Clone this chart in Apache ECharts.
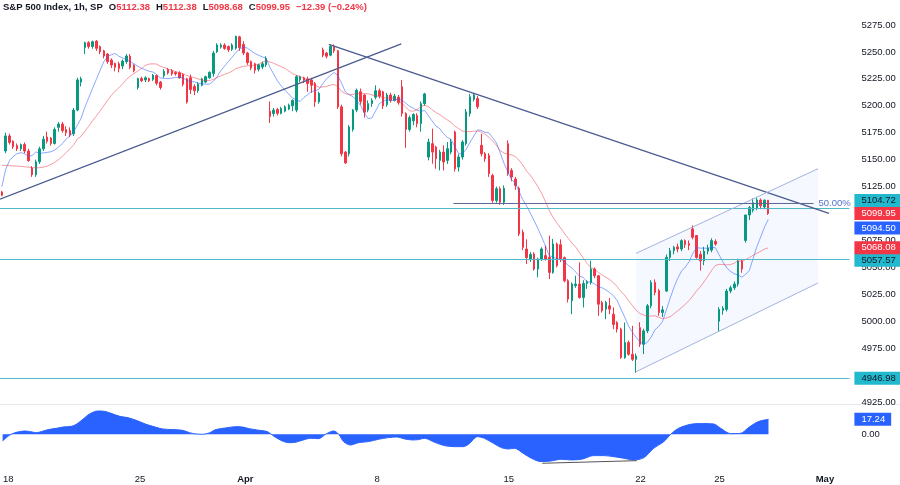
<!DOCTYPE html>
<html><head><meta charset="utf-8">
<script src="https://cdn.jsdelivr.net/npm/echarts/dist/echarts.min.js"></script>
<style>html,body{margin:0;padding:0;background:#fff}#c{width:900px;height:485px}</style>
</head><body><div id="c"></div><script>
// ---------- data ----------
const symbolTitle = 'S&P 500 Index, 1h, SP';
const tradingDays = ['2024-03-15','2024-03-18','2024-03-19','2024-03-20','2024-03-21','2024-03-22',
  '2024-03-25','2024-03-26','2024-03-27','2024-03-28','2024-04-01','2024-04-02','2024-04-03','2024-04-04',
  '2024-04-05','2024-04-08','2024-04-09','2024-04-10','2024-04-11','2024-04-12','2024-04-15','2024-04-16',
  '2024-04-17','2024-04-18','2024-04-19','2024-04-22','2024-04-23','2024-04-24','2024-04-25','2024-04-26',
  '2024-04-29','2024-04-30','2024-05-01'];
const sessionHours = ['09:30','10:30','11:30','12:30','13:30','14:30','15:30'];
const tickDays  = ['2024-03-18','2024-03-25','2024-04-01','2024-04-08','2024-04-15','2024-04-22','2024-04-25','2024-05-01'];
const tickTexts = ['18','25','Apr','8','15','22','25','May'];
const boldTicks = ['Apr','May'];

// candles as [open, high, low, close]
const barMar15 = [[5120,5121,5116,5117]];
const weekMar18 = [
 [5158,5175,5156,5172],[5172,5174,5164,5166],[5167,5168,5160,5162],[5163,5165,5158,5160],[5160,5165,5158,5164],[5164,5166,5156,5158],[5158,5160,5148,5149],
 [5142,5144,5134,5136],[5136,5150,5134,5148],[5148,5162,5146,5160],[5160,5172,5158,5169],[5171,5176,5165,5167],[5170,5171,5163,5165],[5165,5180,5164,5178],
 [5180,5185,5176,5183],[5183,5185,5175,5177],[5178,5181,5172,5175],[5177,5180,5171,5173],[5174,5198,5172,5196],[5196,5226,5195,5224],[5222,5227,5218,5225],
 [5254,5259.5,5248,5258.6],[5258.6,5260,5253,5255],[5255,5260.5,5253,5259.5],[5260,5261,5251,5253.3],[5254.9,5256,5248,5250.2],[5251,5252,5244,5246.2],[5248,5249,5239,5241],
 [5242.5,5244,5235,5237.8],[5239.4,5240,5232,5235.7],[5239,5241,5231,5234.7],[5236.9,5243,5234,5241.5],[5240.9,5248,5239,5246.2],[5246,5248,5234,5235.7],[5237.8,5238.5,5231,5232.5]];
const weekMar25 = [
 [5217,5226,5215,5225.4],[5225.4,5227,5222,5223.2],[5224,5227.5,5222,5226],[5225.4,5226,5222,5223.2],[5224.5,5229.5,5223,5228.5],[5228,5229,5219,5221],[5222,5223,5215,5217],
 [5228,5234,5226,5232],[5233.5,5235,5229,5230.5],[5232.5,5234,5228,5229.5],[5231,5232,5228,5229.6],[5230.7,5232,5225,5226],[5229,5230,5218,5220],[5225,5226,5202,5203.5],
 [5226,5229,5211,5215],[5218,5220,5210,5214],[5214,5222,5212,5220],[5219,5226,5218,5225],[5222,5228,5221,5227],[5226,5232,5225,5231],[5230,5251,5227,5249],
 [5250.2,5258,5249,5256.4],[5254.5,5258,5253,5256.5],[5256.4,5258,5252,5253.3],[5255,5256,5250,5252],[5252.4,5258,5251,5256.4],[5253.5,5265,5252,5264.5],[5264,5265,5251,5254]];
const weekApr01 = [
 [5257,5260,5247,5249],[5249,5250,5238,5240],[5241,5242,5233,5235],[5239,5240,5230,5233],[5234,5239,5232,5238],[5236,5241,5234,5239],[5238,5246,5236,5244],
 [5195,5204,5184,5190],[5192.8,5198,5190,5196],[5196.5,5198,5191,5193],[5193,5199,5192,5197.4],[5195,5200.5,5194,5199],[5197,5202,5196,5200.5],[5200,5206,5195,5205],
 [5196,5228.5,5194,5227],[5224,5228,5222,5227],[5226,5227,5221,5223.8],[5225,5227,5213,5220.7],[5224,5226,5212,5219],[5220.7,5222,5199,5203.6],[5203.6,5213,5202,5211.4],
 [5252,5254,5245,5247],[5249,5250,5244,5246],[5247,5256.5,5246,5255],[5255,5257,5249,5251],[5251,5252,5197,5199],[5199,5201,5153,5155.5],[5157,5158,5146,5147],
 [5155.5,5182,5153,5180.3],[5178,5197,5176,5196],[5196,5216,5194,5214.5],[5213,5216,5201,5204],[5210,5211,5189,5194],[5196,5205,5194,5202],[5202,5207,5199,5205]];
const weekApr08 = [
 [5208,5219,5206,5214],[5214,5216,5207,5209],[5213,5214,5197,5200],[5201,5212,5199,5210],[5210,5212,5203,5205],[5205,5211,5204,5209],[5208,5210,5201,5203],
 [5217.6,5223.8,5190,5192.8],[5192.8,5194,5161,5178],[5178,5191,5176,5189],[5186,5193,5182,5192],[5191,5193,5180,5183.5],[5183.5,5204,5176,5202],[5202,5212,5200,5211],
 [5152.4,5169.5,5149.3,5166.3],[5164.8,5178.8,5146.2,5157],[5161.7,5163,5141.5,5150.9],[5149.3,5159,5140,5157],[5157,5163.3,5140,5147.8],[5149.3,5166.4,5146,5160.2],[5157,5169,5155,5166.4],
 [5175.7,5177,5139,5141.5],[5143.1,5155,5139,5152.4],[5152.4,5168,5150,5166.4],[5164.8,5197,5163,5194.3],[5192.8,5211,5190,5208.3],[5206,5211.8,5204,5210],[5206.7,5209,5197,5199],
 [5163.3,5174,5153,5155.5],[5155.5,5157,5148,5150.9],[5154,5156,5134,5136.9],[5135.3,5137,5110,5112.1],[5112.1,5125,5110,5123],[5123,5125,5108,5110.5],[5110.5,5126,5108,5123.4]];
const weekApr15 = [
 [5164.8,5167.9,5135,5136.9],[5140,5142,5130,5133.8],[5132,5134,5122,5126],[5123.4,5125,5079,5081],[5082.6,5085,5066,5068.6],[5067,5076,5053,5059],[5057.8,5064,5055,5062],
 [5062.4,5064,5047,5048.4],[5048.4,5059,5040.7,5057.8],[5057.8,5068.6,5056,5067.1],[5060.9,5070.2,5056.2,5057.8],[5059.3,5079.5,5039.1,5045.3],[5045.3,5076.4,5044,5071.7],[5071.7,5073,5050,5051.6],
 [5071,5076,5055,5058],[5059,5060,5036,5037.6],[5037.6,5039,5017.4,5020.5],[5019,5036,5006.5,5034.5],[5032.9,5042.2,5031,5034.5],[5034.5,5054.7,5021,5022],[5022,5038,5012.8,5035],
 [5035,5038,5030,5036.5],[5036,5056.2,5034,5048.4],[5048.4,5050,5040,5042.2],[5042.2,5043,5005,5015.8],[5017.4,5019,5008,5009.7],[5011.2,5019,5001.9,5017.4],[5014.3,5021.6,5006.5,5011.2],
 [5006.5,5012.8,4992.6,4997],[4998.8,5000,4989.5,4992.6],[4992.6,4994,4965,4966.2],[4966.2,4998.8,4965,4980.2],[4980.2,4982,4968,4969.3],[4969.3,4995.7,4963,4964.6],[4964.6,4970,4952.2,4967.7]];
const weekApr22 = [
 [4994,4999,4976,4978.6],[4978.6,4993,4969.4,4991],[4991,5016,4989,5014.3],[5014.3,5038,5012,5036],[5036,5038.8,5024,5026.7],[5028.3,5030,5005,5008.1],[5008.1,5014,5004,5010.6],
 [5028,5062,5027,5059.3],[5059.3,5068,5056,5065.5],[5065.5,5070,5062,5068.6],[5069,5072,5064,5067],[5067,5076,5065,5074.8],[5074.8,5076,5068,5071],[5072,5075,5066,5070.5],
 [5085.7,5089,5076,5077.9],[5079.5,5080,5058,5059.2],[5062,5065,5047,5056],[5056,5069,5052,5065],[5065,5071,5062,5068],[5066,5077,5064,5074.8],[5074,5076,5070,5071.6],
 [5000,5013,4990,5011],[5010,5014,5006,5012],[5011,5030,5009,5028],[5028,5033,5026,5031],[5031,5037,5029,5034.5],[5034.5,5058,5032,5056],[5056,5057,5045,5048.4],
 [5075,5098,5073,5098.6],[5098.6,5107,5094,5105.5],[5103,5114,5101,5110],[5105,5114.6,5103,5112.5],[5112.5,5114,5104,5107.21],[5106,5113,5104,5112.34],[5112.38,5112.38,5098.68,5099.95]];

// moving-average values at the left edge (before a full window exists)
const fastMaStart = [5125,5141,5149,5153,5155.5,5156.5,5155.5,5153];
const slowMaStart = [5144.7,5144.6,5144.4,5144.2,5144,5143.7,5143.4,5143,5142.6,5142.4,5142.5,5143,5144,5145.5,5147.5,5150,5153,5156.5,5160];
const fastPeriod = 9, slowPeriod = 20;

// horizontal levels, fib level, trendlines, channel (bar index, price)
const levelLines = [5104.72, 5057.57, 4946.98];
const fibRatio = 0.5, fibPrice = 5109.3, fibBars = [119.6, 215.0];
const trendUpBars = [-0.5, 105.8], trendUpPrices = [5113.3, 5257.4];
const trendDownBars = [86.6, 219.1], trendDownPrices = [5257.1, 5100.2];
const channelBars = [168.0, 216.2], channelLower = [4953.1, 5035.5], channelUpper = [5063.0, 5141.6];

// oscillator (lower pane): bar index and value
const oscBars = [-0.5,1.4,3.2,5.4,6.7,8.5,10.3,12,13.8,15.6,17.8,19.1,20.9,22.6,24.8,26.6,28.3,30.6,32.8,35,
 37.6,40.3,42,44.7,47.3,49.1,50.8,52.6,54.4,56.1,58.8,61.4,63.2,65,67.6,69.8,71.6,73.8,75.6,77.3,
 79.1,81.3,83.5,85.3,87.5,88.8,90.1,91.9,94.1,96.7,99.4,102,104.2,106.4,108.5,110,111.6,114.3,116.9,119.6,
 121.9,123.3,125.7,127.5,129.9,132,133.9,135.5,137.8,140,142.6,145.3,147.9,150.6,153.7,156.4,159.3,161.9,164.6,167.2,
 169.9,172.5,175.2,177,179.1,182.3,185,188.4,190.3,192.9,195.6,197.7,200.3,203];
const oscValues = [-7.7,-0.8,2.3,3.8,3.1,1.9,3.8,5.7,6.9,8.4,9.2,11.5,17.6,23.4,26.8,26.4,24.1,20.7,19.1,16.1,
 11.5,8.0,6.1,5.4,4.6,1.9,0.4,0,1.5,5.4,7.3,8.8,8.4,6.5,4.6,3.1,-2.3,-7.7,-9.6,-9.2,
 -6.9,-4.6,-5.0,0,3.8,0,-8.4,-12.3,-9.6,-8.4,-5.7,-3.8,-3.1,-5.4,-6.5,-6.1,-4.6,-9.2,-13.0,-14.2,
 -14.2,-11.5,-2.7,-4.6,-10.3,-15.3,-16.9,-16.1,-21.8,-27.6,-31.4,-30.6,-28.7,-29.5,-28.3,-24.5,-24.5,-25.7,-27.6,-29.5,
 -26.8,-16.1,-8.4,0,6.9,11.5,12.3,11.9,6.9,0.8,1.1,7.7,14.6,17.24];
const divergenceBars = [142.9, 168.0], divergenceValues = [-33.3, -30.3];

// ---------- build ----------
const categories = tradingDays.flatMap(d => sessionHours.map(h => d + ' ' + h)).slice(6);
const N = categories.length;
const tickMap = {};
tickDays.forEach((d, i) => { tickMap[d + ' 09:30'] = tickTexts[i]; });

const candles = [].concat(barMar15, weekMar18, weekMar25, weekApr01, weekApr08, weekApr15, weekApr22);
const closes = candles.map(b => b[3]);
function movingAverage(vals, period, start) {
  return vals.map((v, i) => {
    if (i < period - 1) return start[i];
    let s = 0; for (let k = i - period + 1; k <= i; k++) s += vals[k];
    return s / period;
  });
}
const maFast = movingAverage(closes, fastPeriod, fastMaStart);
const maSlow = movingAverage(closes, slowPeriod, slowMaStart);

const last = candles[candles.length - 1];
const prevClose = closes[closes.length - 2];
const change = last[3] - prevClose;
const changePct = change / prevClose * 100;
const fmt = v => v.toFixed(2).replace('-', '\u2212');

const UP = '#089981', DOWN = '#f23645', BLUE = '#2962ff', CYAN = '#22b9cf', TEXT = '#131722';
const FONT = 'Liberation Sans, Arial, sans-serif';
const FS = 9.5;

function tag(value, bg, fg, dy, lineColor) {
  return {
    yAxis: value,
    lineStyle: { color: lineColor || 'rgba(0,0,0,0)', width: 1.2, type: 'solid' },
    label: {
      show: true, position: 'end', distance: 5, formatter: value.toFixed(2),
      backgroundColor: bg, color: fg, fontSize: FS, fontFamily: FONT, lineHeight: 11,
      padding: [1, 6, 1, 7], offset: [0, dy]
    }
  };
}

const lineSeries = (bars, prices, color, width, extra) => Object.assign({
  type: 'line', xAxisIndex: 1, yAxisIndex: 0, data: bars.map((b, i) => [b, prices[i]]),
  showSymbol: false, silent: true, animation: false, z: 6,
  lineStyle: { color: color, width: width }
}, extra || {});

const chart = echarts.init(document.getElementById('c'), null, { renderer: 'canvas' });
chart.setOption({
  animation: false,
  backgroundColor: '#ffffff',
  textStyle: { fontFamily: FONT },
  title: {
    left: 3, top: 2, padding: 0,
    text: '{t|' + symbolTitle + '}{k|O}{v|' + fmt(last[0]) + '}{k|H}{v|' + fmt(last[1]) + '}{k|L}{v|' + fmt(last[2]) +
          '}{k|C}{v|' + fmt(last[3]) + '}{c|' + fmt(change) + ' (' + fmt(changePct) + '%)}',
    textStyle: {
      rich: {
        t: { fontSize: FS, color: TEXT, fontFamily: FONT },
        k: { fontSize: FS, color: TEXT, fontFamily: FONT, padding: [0, 0, 0, 6] },
        v: { fontSize: FS, color: DOWN, fontFamily: FONT },
        c: { fontSize: FS, color: DOWN, fontFamily: FONT, padding: [0, 0, 0, 6] }
      }
    }
  },
  graphic: [{ type: 'line', shape: { x1: 0, y1: 404.5, x2: 900, y2: 404.5 }, style: { stroke: '#e6e8ee', lineWidth: 1 }, silent: true, z: 0 }],
  grid: [
    { left: 0, width: 849.4, top: 25, height: 403.9 },
    { left: 0, width: 849.4, top: 399.5, height: 69.6 }
  ],
  xAxis: [
    { type: 'category', gridIndex: 0, data: categories, show: false },
    { type: 'value', gridIndex: 0, min: -0.5, max: N - 0.5, show: false },
    { type: 'category', gridIndex: 1, data: categories, position: 'bottom',
      axisLine: { show: false }, axisTick: { show: false }, splitLine: { show: false },
      axisLabel: {
        margin: 5, fontSize: FS, color: TEXT, fontFamily: FONT,
        interval: (idx, val) => tickMap[val] !== undefined,
        formatter: val => { const t = tickMap[val] || ''; return boldTicks.includes(t) ? '{b|' + t + '}' : t; },
        rich: { b: { fontWeight: 'bold', fontSize: FS, color: TEXT, fontFamily: FONT } }
      } },
    { type: 'value', gridIndex: 1, min: -0.5, max: N - 0.5, show: false, position: 'top' }
  ],
  yAxis: [
    { type: 'value', gridIndex: 0, position: 'right', min: 4900, max: 5275, interval: 25,
      splitLine: { show: false }, axisLine: { show: false }, axisTick: { show: false },
      axisLabel: { margin: 12, fontSize: FS, color: TEXT, fontFamily: FONT,
        formatter: v => (v >= 4925) ? v.toFixed(2) : '' } },
    { type: 'value', gridIndex: 1, position: 'right', min: -40, max: 40, interval: 20,
      splitLine: { show: false }, axisLine: { show: false }, axisTick: { show: false },
      axisLabel: { margin: 12, fontSize: FS, color: TEXT, fontFamily: FONT,
        formatter: v => v === 0 ? '0.00' : '' } }
  ],
  series: [
    { type: 'custom', xAxisIndex: 1, yAxisIndex: 0, silent: true, z: 1,
      data: [[channelBars[0], channelLower[0], channelBars[1], channelLower[1], channelUpper[1], channelUpper[0]]],
      renderItem: (params, api) => ({
        type: 'polygon',
        shape: { points: [
          api.coord([api.value(0), api.value(1)]), api.coord([api.value(2), api.value(3)]),
          api.coord([api.value(2), api.value(4)]), api.coord([api.value(0), api.value(5)]) ] },
        style: { fill: 'rgba(41,98,255,0.045)' }
      }) },
    { type: 'candlestick', xAxisIndex: 0, yAxisIndex: 0, z: 3, barWidth: 2,
      data: candles.map(b => [b[0], b[3], b[2], b[1]]),
      itemStyle: { color: UP, color0: DOWN, borderColor: UP, borderColor0: DOWN, borderWidth: 1 },
      markLine: {
        silent: true, symbol: ['none', 'none'], animation: false,
        data: [
          tag(levelLines[0], CYAN, TEXT, -8, '#4fb9c7'),
          tag(levelLines[1], CYAN, TEXT, 1, '#4fb9c7'),
          tag(levelLines[2], CYAN, TEXT, 0, '#4fb9c7'),
          tag(last[3], DOWN, '#ffffff', 0),
          tag(Number(maFast[maFast.length - 1].toFixed(2)), BLUE, '#ffffff', 8.5),
          tag(Number(maSlow[maSlow.length - 1].toFixed(2)), DOWN, '#ffffff', 0)
        ]
      } },
    { type: 'line', xAxisIndex: 0, yAxisIndex: 0, data: maFast, showSymbol: false, silent: true, z: 4,
      lineStyle: { color: 'rgba(41,98,255,0.55)', width: 1 } },
    { type: 'line', xAxisIndex: 0, yAxisIndex: 0, data: maSlow, showSymbol: false, silent: true, z: 4,
      lineStyle: { color: 'rgba(242,54,69,0.5)', width: 1 } },
    lineSeries(trendUpBars, trendUpPrices, '#4a5b8f', 1.3),
    lineSeries(trendDownBars, trendDownPrices, '#4a5b8f', 1.3),
    lineSeries(channelBars, channelLower, '#a3b3df', 1),
    lineSeries(channelBars, channelUpper, '#a3b3df', 1),
    lineSeries(fibBars, [fibPrice, fibPrice], '#5a6796', 1, {
      endLabel: { show: true, formatter: (fibRatio * 100).toFixed(2) + '%', color: '#5170c8', fontSize: FS, fontFamily: FONT, distance: 5 } }),
    { type: 'line', xAxisIndex: 3, yAxisIndex: 1, data: oscBars.map((b, i) => [b, oscValues[i]]),
      showSymbol: false, silent: true, smooth: 0.3, z: 3,
      lineStyle: { color: BLUE, width: 1 }, areaStyle: { color: BLUE, opacity: 1 },
      markLine: { silent: true, symbol: ['none', 'none'], animation: false,
        data: [tag(oscValues[oscValues.length - 1], BLUE, '#ffffff', 0)] } },
    { type: 'line', xAxisIndex: 3, yAxisIndex: 1, data: divergenceBars.map((b, i) => [b, divergenceValues[i]]),
      showSymbol: false, silent: true, z: 5, lineStyle: { color: '#555555', width: 1 } }
  ]
});
</script></body></html>
